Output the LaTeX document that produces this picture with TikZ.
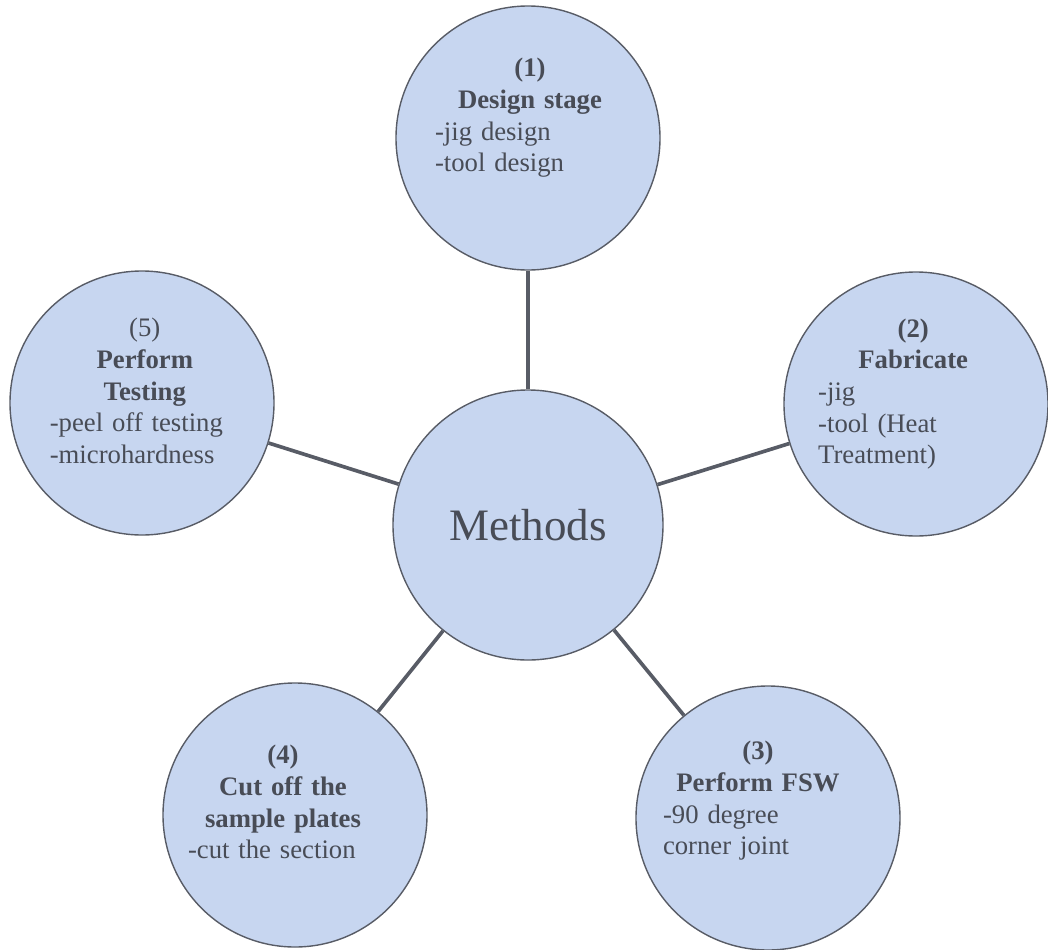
\documentclass[tikz,border=0pt]{standalone}
\usepackage{fontspec}
\setmainfont{Liberation Serif}
\usepackage{xcolor}
\usepackage{tikz}
\usetikzlibrary{positioning,calc}
\definecolor{stagefill}{RGB}{199,214,240}
\definecolor{stageline}{RGB}{88,92,102}
\definecolor{stageink}{RGB}{72,76,86}
\tikzset{
	stage/.style={circle, draw=stageline, fill=stagefill, line width=1pt, minimum size=6.6cm, inner sep=0pt},
	link/.style={draw=stageline, line width=2.6pt},
	stagetext/.style={text width=4.75cm, align=left, inner sep=0pt, text=stageink,
		font=\fontsize{19}{22.5}\selectfont}
}
\newcommand{\stagehead}[1]{{\centering #1\par}}

\begin{document}
\begin{tikzpicture}[
			hubbox/.style={stage, minimum size=6.75cm, text=stageink,
				font=\fontsize{32}{38}\selectfont},
			]
			\useasboundingbox (0,0) rectangle (26.2,-23.75);
			
			%% -- Centre hub and the five stages round it
			\node[hubbox] (methods) at (13.2,-13.125) {Methods};
			
			\node[stage] (design) at (13.2,-3.45) {};
			\node[stage] (fabricate) at (22.9,-10.1) {};
			\node[stage] (fsw) at (19.2,-20.45) {};
			\node[stage] (cutoff) at (7.375,-20.375) {};
			\node[stage] (testing) at (3.55,-10.075) {};
			
			%% -- Spokes
			\draw[link] (methods) -- (design);
			\draw[link] (methods) -- (fabricate);
			\draw[link] (methods) -- (fsw);
			\draw[link] (methods) -- (cutoff);
			\draw[link] (methods) -- (testing);
			
			%% -- Stage texts
			\node[stagetext] (designtxt) at ($(design)+(0.05,0.5)$)
			{
				\stagehead{\textbf{(1)}\\\textbf{Design stage}}
				-jig design\\
				-tool design
			};
			
			\node[stagetext] (fabricatetxt) at ($(fabricate)+(-0.07,0.25)$)
			{
				\stagehead{\textbf{(2)}\\\textbf{Fabricate}}
				-jig\\
				-tool (Heat\\
				Treatment)
			};
			
			\node[stagetext] (fswtxt) at ($(fsw)+(-0.25,0.43)$)
			{
				\stagehead{\textbf{(3)}\\\textbf{Perform FSW}}
				-90 degree\\
				corner joint
			};
			
			\node[stagetext] (cutofftxt) at ($(cutoff)+(-0.3,0.32)$)
			{
				\stagehead{\textbf{(4)}\\\textbf{Cut off the}\\\textbf{sample plates}}
				-cut the section
			};
			
			\node[stagetext] (testingtxt) at ($(testing)+(0.07,0.3)$)
			{
				\stagehead{(5)\\\textbf{Perform}\\\textbf{Testing}}
				-peel off testing\\
				-microhardness
			};
			
		\end{tikzpicture}
\end{document}
